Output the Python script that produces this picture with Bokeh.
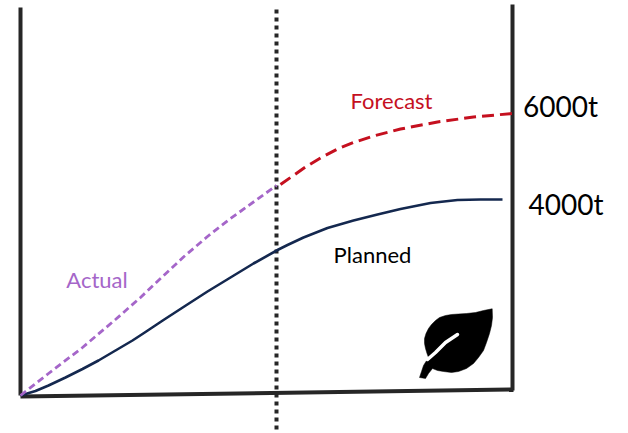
from bokeh.plotting import figure
from bokeh.models import Range1d
from bokeh.core.properties import value
from bokeh.embed import file_html
from bokeh.resources import INLINE

# Horizontal position along the timeline and tonnage height above the baseline
planned_x = [0, 15, 28, 45, 62, 78, 95, 112, 125, 143, 163, 187, 210, 233, 258, 267, 283, 307, 333, 357, 380, 410, 437, 460, 482]
planned_y = [0, 4.5, 10, 18, 26.5, 35, 45, 55, 63.5, 75.5, 88.5, 104, 118, 132, 146, 150.5, 158, 167.5, 175, 181, 186.5, 192.5, 195.5, 196, 196]
actual_x = [0, 28, 62, 95, 120, 140, 163, 187, 210, 233, 256]
actual_y = [0, 22, 48, 76, 98, 117, 138.5, 159, 177, 193.5, 210]
forecast_x = [260, 270, 285, 300, 317, 333, 353, 380, 417, 453, 492]
forecast_y = [211, 218, 228.5, 237.5, 246.5, 253, 259.5, 266.5, 273.5, 278.5, 282]

labels = ["Actual", "Forecast", "Planned", "6000t", "4000t"]
label_x = [76.5, 371, 352, 540, 545.5]
label_y = [116.5, 295, 141, 290, 192]
label_colors = ["#a566c9", "#c5101f", "#000000", "#000000", "#000000"]
label_sizes = ["22px", "22px", "22px", "28px", "28px"]

# Frame of the chart: both uprights, the sloping base and the "today" marker
left_axis_x, left_axis_y = [0, 0], [0, 388]
right_axis_x, right_axis_y = [492, 492], [5, 391]
base_x, base_y = [0, 493], [-1, 6]
today_x, today_y = [256, 256], [-34, 386]

# Leaf emblem outline, stem included
leaf_x = [471.7, 463, 455, 446, 438, 431, 425, 419, 415, 411, 408, 405.5, 404, 404, 405, 406.5, 408,
          405.5, 403, 401, 399, 405, 408, 412, 417, 423, 431, 438, 446, 453, 458, 463, 466, 469, 471, 472]
leaf_y = [86.7, 85, 83, 82, 81.5, 81, 80, 78, 75, 71, 67, 62, 57, 52, 47, 42, 38,
          34, 30, 24, 18, 17, 22, 27, 25, 24, 23, 24, 27, 32, 38, 45, 53, 62, 70, 78]
vein_x = [437, 425, 415, 407]
vein_y = [61, 53, 43, 36]

p = figure(width=628, height=433, output_backend="svg", toolbar_location=None,
           x_range=Range1d(-20, 608), y_range=Range1d(-38, 395),
           min_border=0, outline_line_color=None, background_fill_color="white")
p.xaxis.visible = False
p.yaxis.visible = False
p.grid.visible = False

frame = "#262626"
p.line(today_x, today_y, line_color=frame, line_width=4, line_dash="4 4")
p.line(left_axis_x, left_axis_y, line_color=frame, line_width=4)
p.line(right_axis_x, right_axis_y, line_color=frame, line_width=4)
p.line(base_x, base_y, line_color=frame, line_width=4)

p.line(planned_x, planned_y, line_color="#14284f", line_width=2.6, line_join="round")
p.line(actual_x, actual_y, line_color="#a566c9", line_width=2.8, line_dash="7 4", line_join="round")
p.line(forecast_x, forecast_y, line_color="#c5101f", line_width=3, line_dash="12 6", line_join="round")

p.patch(leaf_x, leaf_y, fill_color="black", line_color="black", line_width=0.5, line_join="round")
p.line(vein_x, vein_y, line_color="white", line_width=3.5, line_cap="round", line_join="round")

p.text(label_x, label_y, text=labels, text_color=label_colors,
       text_font=value("Lato"), text_font_size=label_sizes,
       text_align="center", text_baseline="middle")

open("out.html", "w").write(file_html(p, INLINE))
